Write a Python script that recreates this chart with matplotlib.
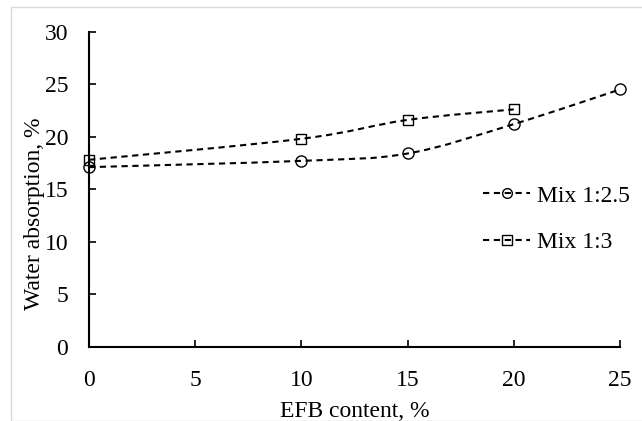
import matplotlib
matplotlib.use("Agg")
import matplotlib.pyplot as plt
import numpy as np
from matplotlib.path import Path
from matplotlib.patches import PathPatch, Rectangle
from matplotlib.lines import Line2D

plt.rcParams["font.family"] = ["Liberation Serif", "DejaVu Serif"]

# data
efb_a = [0, 10, 15, 20, 25]
mix_a = [17.1, 17.7, 18.4, 21.2, 24.5]
efb_b = [0, 10, 15, 20]
mix_b = [17.8, 19.8, 21.6, 22.6]
labels = ["Mix 1:2.5", "Mix 1:3"]
x_ticks = [0, 5, 10, 15, 20, 25]
y_ticks = [0, 5, 10, 15, 20, 25, 30]

DASH = (0, (3, 2.2))
LW = 1.5
FS = 17


def smooth_path(x, y):
    # Excel-like smoothed line: cubic bezier through the points
    p = np.column_stack([x, y]).astype(float)
    n = len(p)
    verts = [p[0]]
    codes = [Path.MOVETO]
    for i in range(n - 1):
        p0 = p[i - 1] if i > 0 else p[i]
        p3 = p[i + 2] if i + 2 < n else p[i + 1]
        c1 = p[i] + (p[i + 1] - p0) / 6
        c2 = p[i + 1] - (p3 - p[i]) / 6
        verts += [c1, c2, p[i + 1]]
        codes += [Path.CURVE4] * 3
    return Path(verts, codes)


fig = plt.figure(figsize=(6.42, 4.21), dpi=100)
ax = fig.add_axes([89 / 642, 1 - 346.7 / 421, (620 - 89) / 642, (346.7 - 31.7) / 421])

# chart area border
fig.patches.append(Rectangle((11 / 642, 0), 1, 1 - 7 / 421, transform=fig.transFigure,
                             fill=False, edgecolor="#d9d9d9", linewidth=1.0))

for xs, ys, mk, ms in [(efb_a, mix_a, "o", 8), (efb_b, mix_b, "s", 7)]:
    ax.add_patch(PathPatch(smooth_path(xs, ys), fill=False, edgecolor="black",
                           linewidth=LW, linestyle=DASH, clip_on=False))
    ax.plot(xs, ys, linestyle="none", marker=mk, markersize=ms, markerfacecolor="none",
            markeredgecolor="black", markeredgewidth=1.0, clip_on=False)

handles = [Line2D([], [], color="black", lw=LW, linestyle=DASH, marker="o", markersize=7,
                  markerfacecolor="none", markeredgewidth=1.0),
           Line2D([], [], color="black", lw=LW, linestyle=DASH, marker="s", markersize=6.5,
                  markerfacecolor="none", markeredgewidth=1.0)]
ax.legend(handles, labels, loc="upper left", bbox_to_anchor=(483 / 642, 1 - 185 / 421),
          bbox_transform=fig.transFigure, frameon=False, fontsize=FS, handlelength=2.0,
          handletextpad=0.3, labelspacing=1.05, borderpad=0, borderaxespad=0)

ax.set_xlim(0, 25)
ax.set_ylim(0, 30)
ax.set_xticks(x_ticks)
ax.set_yticks(y_ticks)
ax.spines["top"].set_visible(False)
ax.spines["right"].set_visible(False)
for s in ["left", "bottom"]:
    ax.spines[s].set_linewidth(1.5)
ax.tick_params(axis="both", direction="in", length=5, width=1.2, labelsize=FS)
ax.tick_params(axis="x", pad=17)
ax.tick_params(axis="y", pad=15)

ax.set_xlabel("EFB content, %", fontsize=FS, labelpad=7)
ax.set_ylabel("Water absorption, %", fontsize=FS)
ax.yaxis.set_label_coords(-0.083, 0.421)

fig.savefig("out.png", dpi=100)
